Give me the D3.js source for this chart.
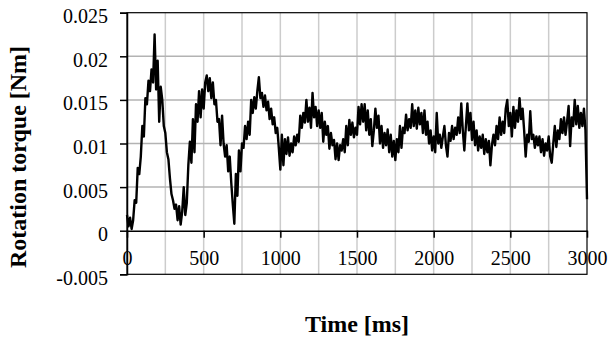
<!DOCTYPE html>
<html>
<head>
<meta charset="utf-8">
<script src="https://cdn.jsdelivr.net/npm/d3@7"></script>
<style>
  body { margin: 0; background: #fff; }
  svg, svg text { font-family: "Liberation Serif", "Times New Roman", serif !important; }
</style>
</head>
<body>
<div id="chart"></div>
<script>
// torque samples, one every 10 ms from 0 to 3000 ms
const sampleStep = 10;
const torque = [
  0.0018, 0.0005, 0.0015, 0.0002, 0.0012, 0.0035, 0.0032, 0.0072, 0.0065, 0.0085,
  0.0120, 0.0108, 0.0152, 0.0145, 0.0172, 0.0160, 0.0185, 0.0170, 0.0225, 0.0162,
  0.0195, 0.0125, 0.0165, 0.0150, 0.0120, 0.0112, 0.0090, 0.0082, 0.0060, 0.0042,
  0.0035, 0.0025, 0.0030, 0.0012, 0.0028, 0.0007, 0.0022, 0.0050, 0.0018, 0.0032,
  0.0075, 0.0102, 0.0078, 0.0128, 0.0090, 0.0145, 0.0125, 0.0160, 0.0130, 0.0162,
  0.0140, 0.0170, 0.0178, 0.0160, 0.0175, 0.0152, 0.0170, 0.0145, 0.0150, 0.0125,
  0.0128, 0.0098, 0.0132, 0.0100, 0.0085, 0.0098, 0.0068, 0.0085, 0.0055, 0.0030,
  0.0008, 0.0065, 0.0040, 0.0092, 0.0068, 0.0100, 0.0095, 0.0120, 0.0105, 0.0125,
  0.0110, 0.0150, 0.0135, 0.0153, 0.0140, 0.0160, 0.0176, 0.0152, 0.0158, 0.0142,
  0.0155, 0.0138, 0.0148, 0.0128, 0.0140, 0.0122, 0.0130, 0.0112, 0.0118, 0.0095,
  0.0070, 0.0110, 0.0075, 0.0105, 0.0088, 0.0107, 0.0086, 0.0100, 0.0090, 0.0108,
  0.0098, 0.0110, 0.0102, 0.0132, 0.0118, 0.0135, 0.0124, 0.0150, 0.0125, 0.0141,
  0.0118, 0.0158, 0.0130, 0.0142, 0.0120, 0.0138, 0.0118, 0.0135, 0.0102, 0.0125,
  0.0110, 0.0120, 0.0094, 0.0112, 0.0098, 0.0104, 0.0082, 0.0100, 0.0081, 0.0098,
  0.0092, 0.0105, 0.0090, 0.0120, 0.0098, 0.0127, 0.0110, 0.0124, 0.0107, 0.0118,
  0.0110, 0.0142, 0.0122, 0.0145, 0.0125, 0.0145, 0.0115, 0.0138, 0.0110, 0.0128,
  0.0097, 0.0115, 0.0140, 0.0118, 0.0132, 0.0100, 0.0120, 0.0095, 0.0112, 0.0098,
  0.0116, 0.0090, 0.0110, 0.0085, 0.0103, 0.0081, 0.0105, 0.0090, 0.0120, 0.0095,
  0.0118, 0.0112, 0.0133, 0.0115, 0.0128, 0.0118, 0.0145, 0.0120, 0.0138, 0.0117,
  0.0141, 0.0122, 0.0135, 0.0112, 0.0138, 0.0110, 0.0125, 0.0100, 0.0115, 0.0092,
  0.0108, 0.0090, 0.0135, 0.0100, 0.0110, 0.0095, 0.0108, 0.0120, 0.0098, 0.0085,
  0.0112, 0.0103, 0.0120, 0.0105, 0.0118, 0.0110, 0.0130, 0.0112, 0.0146, 0.0115,
  0.0092, 0.0120, 0.0146, 0.0115, 0.0135, 0.0104, 0.0125, 0.0098, 0.0115, 0.0092,
  0.0108, 0.0095, 0.0110, 0.0088, 0.0105, 0.0090, 0.0103, 0.0075, 0.0098, 0.0110,
  0.0098, 0.0120, 0.0105, 0.0130, 0.0110, 0.0125, 0.0112, 0.0140, 0.0150, 0.0120,
  0.0135, 0.0108, 0.0142, 0.0118, 0.0138, 0.0125, 0.0152, 0.0128, 0.0140, 0.0115,
  0.0085, 0.0110, 0.0102, 0.0137, 0.0105, 0.0110, 0.0095, 0.0108, 0.0098, 0.0108,
  0.0090, 0.0105, 0.0086, 0.0100, 0.0092, 0.0108, 0.0085, 0.0078, 0.0100, 0.0120,
  0.0096, 0.0115, 0.0105, 0.0128, 0.0112, 0.0130, 0.0110, 0.0125, 0.0143, 0.0097,
  0.0130, 0.0120, 0.0150, 0.0122, 0.0143, 0.0118, 0.0135, 0.0120, 0.0140, 0.0115,
  0.0036
];

const xTicks = [0, 500, 1000, 1500, 2000, 2500, 3000];
const xGrid = [250, 500, 750, 1000, 1250, 1500, 1750, 2000, 2250, 2500, 2750];
const yTicks = [-0.005, 0, 0.005, 0.01, 0.015, 0.02, 0.025];
const yTickLabels = ["-0.005", "0", "0.005", "0.01", "0.015", "0.02", "0.025"];

const width = 610, height = 340;
const margin = { top: 12.7, right: 23, bottom: 66, left: 127 };

const svg = d3.select("#chart").append("svg")
  .attr("width", width)
  .attr("height", height);

const x = d3.scaleLinear().domain([0, 3000]).range([margin.left, width - margin.right]);
const y = d3.scaleLinear().domain([-0.005, 0.025]).range([height - margin.bottom + 0.3, margin.top]);

// grid
svg.append("g").selectAll("line")
  .data(xGrid)
  .enter().append("line")
  .attr("x1", d => x(d)).attr("x2", d => x(d))
  .attr("y1", y(0.025)).attr("y2", y(-0.005))
  .attr("stroke", "#cccccc").attr("stroke-width", 1.5);

svg.append("g").selectAll("line")
  .data(yTicks.filter(d => d != 0 && d != 0.025 && d != -0.005))
  .enter().append("line")
  .attr("x1", x(0)).attr("x2", x(3000))
  .attr("y1", d => y(d)).attr("y2", d => y(d))
  .attr("stroke", "#b3b3b3").attr("stroke-width", 1.5);

// plot frame
svg.append("rect")
  .attr("x", x(0)).attr("y", y(0.025))
  .attr("width", x(3000) - x(0)).attr("height", y(-0.005) - y(0.025))
  .attr("fill", "none").attr("stroke", "#000").attr("stroke-width", 1.2);

// the trace
const line = d3.line()
  .x((d, i) => x(i * sampleStep))
  .y(d => y(d));

svg.append("path")
  .datum(torque)
  .attr("d", line)
  .attr("fill", "none")
  .attr("stroke", "#000")
  .attr("stroke-width", 2.4)
  .attr("stroke-linejoin", "round");

// y axis
const yAxis = svg.append("g")
  .attr("transform", `translate(${x(0)},0)`)
  .call(d3.axisLeft(y).tickValues(yTicks).tickSize(7).tickPadding(12)
    .tickFormat((d, i) => yTickLabels[i]));
yAxis.attr("font-family", null);
yAxis.select(".domain").attr("stroke-width", 1.5);
yAxis.selectAll(".tick line").attr("stroke-width", 1.5);
yAxis.selectAll("text")
  .attr("font-size", 20)
  .attr("fill", "#000")
  .attr("dy", "0.5em");

// x axis on the zero line
const xAxis = svg.append("g")
  .attr("transform", `translate(0,${y(0)})`)
  .call(d3.axisBottom(x).tickValues(xTicks).tickSize(7).tickPadding(13).tickSizeOuter(0)
    .tickFormat(d => String(d)));
xAxis.attr("font-family", null);
xAxis.select(".domain").attr("stroke-width", 1.5);
xAxis.selectAll(".tick line").attr("stroke-width", 1.5);
xAxis.selectAll("text")
  .attr("font-size", 20)
  .attr("fill", "#000");

// titles
svg.append("text")
  .attr("x", (x(0) + x(3000)) / 2)
  .attr("y", 332)
  .attr("text-anchor", "middle")
  .attr("font-size", 24)
  .attr("font-weight", "bold")
  .text("Time [ms]");

svg.append("text")
  .attr("transform", `translate(26,157) rotate(-90)`)
  .attr("text-anchor", "middle")
  .attr("font-size", 24)
  .attr("font-weight", "bold")
  .text("Rotation torque [Nm]");
</script>
</body>
</html>
